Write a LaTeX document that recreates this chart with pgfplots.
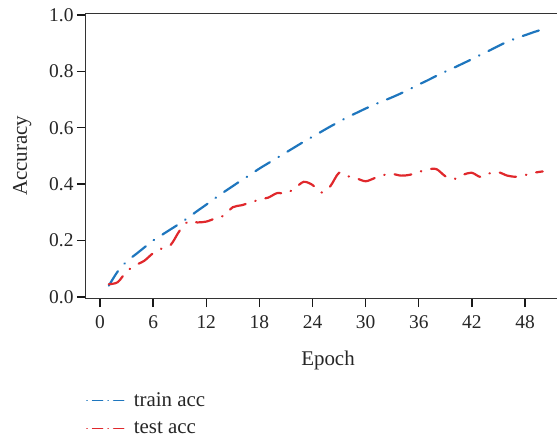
\documentclass[border=0pt]{standalone}
\usepackage{fontspec}
\setmainfont{Liberation Serif}
\usepackage{pgfplots}
\pgfplotsset{compat=1.18}
\usepackage{pgfplotstable}
\definecolor{trainblue}{RGB}{30,118,190}
\definecolor{testred}{RGB}{224,40,44}
\pgfplotstableread{
x y
1 0.040
2 0.090
3 0.125
4 0.150
5 0.175
6 0.200
7 0.220
8 0.240
9 0.260
10 0.282
11 0.305
12 0.327
13 0.350
14 0.372
15 0.393
16 0.414
17 0.434
18 0.455
19 0.474
20 0.493
21 0.512
22 0.531
23 0.550
24 0.568
25 0.586
26 0.604
27 0.621
28 0.638
29 0.653
30 0.668
31 0.682
32 0.695
33 0.708
34 0.722
35 0.737
36 0.753
37 0.768
38 0.784
39 0.799
40 0.813
41 0.828
42 0.843
43 0.859
44 0.874
45 0.890
46 0.905
47 0.917
48 0.928
49 0.939
50 0.949
}\trainacc
\pgfplotstableread{
x y
1 0.045
2 0.052
3 0.090
4 0.112
5 0.128
6 0.155
7 0.172
8 0.185
9 0.235
10 0.268
11 0.264
12 0.267
13 0.278
14 0.288
15 0.318
16 0.325
17 0.335
18 0.345
19 0.352
20 0.368
21 0.367
22 0.385
23 0.408
24 0.397
25 0.370
26 0.392
27 0.440
28 0.428
29 0.420
30 0.410
31 0.421
32 0.432
33 0.436
34 0.430
35 0.433
36 0.443
37 0.452
38 0.453
39 0.428
40 0.418
41 0.433
42 0.440
43 0.425
44 0.438
45 0.442
46 0.430
47 0.426
48 0.432
49 0.440
50 0.445
}\testacc
\begin{document}
\begin{tikzpicture}
\useasboundingbox (-86bp,-140bp) rectangle (471bp,298bp);
\begin{axis}[
  at={(0,0)}, anchor=south west,
  scale only axis, width=484bp, height=284.5bp,
  xmin=-1.58, xmax=53.08, ymin=-0.004, ymax=1.005,
  xtick={0,6,...,48}, ytick={0,0.2,0.4,0.6,0.8,1.0},
  xtick pos=left, ytick pos=left,
  tick align=outside, major tick length=9bp,
  tick style={line width=1.4bp, color=black!90},
  axis line style={line width=1bp, color=black!80},
  /pgf/number format/assume math mode=true,
  /pgf/number format/fixed,
  yticklabel style={/pgf/number format/fixed zerofill, /pgf/number format/precision=1},
  xticklabel style={yshift=-5bp},
  every tick label/.append style={font=\fontsize{19.5}{21}\selectfont, text=black!85},
  label style={font=\fontsize{21}{25}\selectfont, text=black!85},
  xlabel={Epoch}, ylabel={Accuracy},
  xlabel style={at={(axis description cs:0.5,-0.218)}, anchor=center},
  ylabel style={at={(axis description cs:-0.132,0.5)}, anchor=center},
  legend style={at={(axis description cs:0,-0.325)}, anchor=north west,
    draw=none, fill=none, inner sep=0pt, row sep=10bp,
    font=\fontsize{21}{24}\selectfont, text=black!85, cells={anchor=west},
    /tikz/every odd column/.append style={column sep=7bp}},
  legend image code/.code={\draw[#1, line width=1.6bp, dash pattern=on 0.1bp off 5.5bp on 10bp off 5.5bp] (0bp,0bp) -- (37bp,0bp);},
]
\addplot[trainblue, line width=2.2bp, line cap=round, smooth,
  dash pattern=on 17bp off 10bp on 0.5bp off 10bp] table[x=x,y=y] {\trainacc};
\addlegendentry{train acc}
\addplot[testred, line width=2.2bp, line cap=round, smooth, tension=0.5,
  dash pattern=on 17bp off 10bp on 0.5bp off 10bp] table[x=x,y=y] {\testacc};
\addlegendentry{test acc}
\end{axis}
\end{tikzpicture}
\end{document}
